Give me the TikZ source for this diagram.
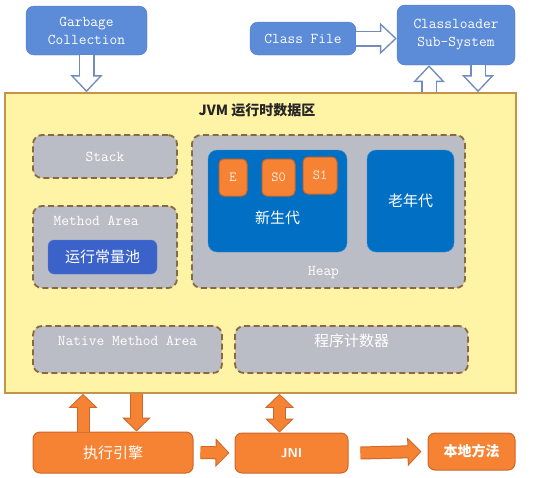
\documentclass[tikz,border=0pt]{standalone}
\usepackage{fontspec}
\newfontfamily\cjk{Noto Sans CJK SC}
\usepackage{tikz}
\usetikzlibrary{positioning,arrows.meta,calc}
\definecolor{cbox}{RGB}{92,139,216}
\definecolor{cboxline}{RGB}{80,122,200}
\definecolor{hline}{RGB}{112,140,188}
\definecolor{jvmbg}{RGB}{255,243,166}
\definecolor{jvmline}{RGB}{196,146,72}
\definecolor{areabg}{RGB}{186,189,197}
\definecolor{arealine}{RGB}{140,104,60}
\definecolor{genblue}{RGB}{0,111,196}
\definecolor{poolblue}{RGB}{58,98,200}
\definecolor{orng}{RGB}{246,131,52}
\definecolor{orngline}{RGB}{205,102,40}
\tikzset{
  sz/.style 2 args={minimum width=#1,minimum height=#2,inner sep=0pt},
  ttf/.style={font=\fontsize{15}{18}\selectfont\ttfamily},
  cnf/.style={font=\fontsize{15}{18}\selectfont\cjk},
  bluebox/.style={rounded corners=8pt,fill=cbox,draw=cboxline,text=white,align=center,ttf},
  jvmbox/.style={fill=jvmbg,draw=jvmline,line width=1.6pt},
  area/.style={rounded corners=9pt,fill=areabg,draw=arealine,line width=1.8pt,dash pattern=on 6pt off 3.5pt,text=white},
  gen/.style={rounded corners=9pt,fill=genblue,draw=genblue!75!white,text=white,cnf},
  obox/.style={rounded corners=7pt,fill=orng,draw=orngline,line width=1pt,text=white},
  sbox/.style={rounded corners=5pt,fill=orng,draw=orngline,line width=1pt,text=white!85!orng,font=\fontsize{14}{16}\selectfont\ttfamily},
  hollowarr/.style={line width=16pt,draw=hline,-{Triangle[length=17pt,width=31pt]},
    postaction={draw=white,line width=13pt,shorten >=2.2pt,-{Triangle[length=13.3pt,width=24.3pt]}}},
  oarrow/.style={line width=13pt,draw=orngline,-{Triangle[length=14pt,width=28pt]},
    postaction={draw=orng,line width=11pt,shorten >=1.4pt,-{Triangle[length=11.6pt,width=23.2pt]}}},
  oarrowdbl/.style={line width=13pt,draw=orngline,{Triangle[length=14pt,width=28pt]}-{Triangle[length=14pt,width=28pt]},
    postaction={draw=orng,line width=11pt,shorten >=1.4pt,shorten <=1.4pt,{Triangle[length=11.6pt,width=23.2pt]}-{Triangle[length=11.6pt,width=23.2pt]}}}
}
\begin{document}
\begin{tikzpicture}[x=1pt,y=-1pt]
\useasboundingbox[fill=white] (0,0) rectangle (546,477);
% outside boxes
\node[bluebox,sz={121pt}{49pt}] (gc) at (86.5,30.5) {Garbage\\Collection};
\node[bluebox,sz={106pt}{33pt}] (cf) at (303,38.5) {Class File};
\node[bluebox,sz={118pt}{60pt}] (cl) at (456,35) {Classloader\\Sub-System};
% runtime data area
\node[jvmbox,sz={511pt}{300pt}] (jvm) at (260.5,243) {};
\node[font=\fontsize{14}{16}\selectfont\cjk\bfseries,text=black!85] (title) at (257,110) {JVM 运行时数据区};
\node[area,ttf,sz={144pt}{43pt}] (stack) at (105,156.5) {Stack};
\node[area,sz={144pt}{82pt}] (ma) at (105,247) {};
\node[ttf,text=white] (malab) at ($(ma.north west)+(64,16)$) {Method Area};
\node[rounded corners=6pt,fill=poolblue,draw=poolblue!80!white,text=white,cnf,sz={109pt}{34pt}] (pool) at (102.5,257) {运行常量池};
\node[area,sz={273pt}{153pt}] (heap) at (328.5,211.5) {};
\node[ttf,text=white] (heaplab) at ($(heap.south)+(-5,-16)$) {Heap};
\node[gen,sz={139pt}{102pt}] (young) at (277.5,201) {};
\node[cnf,text=white] (younglab) at ($(young.center)+(0,17)$) {新生代};
\node[gen,sz={87pt}{102pt}] (old) at (410.5,201) {老年代};
\node[sbox,sz={28pt}{37pt}] (eden) at (233,177.5) {E};
\node[sbox,sz={33pt}{37pt}] (szero) at (278.5,177.5) {S0};
\node[sbox,sz={34pt}{37pt}] (sone) at (320,175.5) {S1};
\node[area,sz={189pt}{47pt}] (nma) at (127.5,349.5) {};
\node[ttf,text=white] (nmalab) at ($(nma.north)+(0,16)$) {Native Method Area};
\node[area,sz={233pt}{47pt}] (pc) at (351.5,349.5) {};
\node[cnf,text=white] (pclab) at ($(pc.north)+(0,16)$) {程序计数器};
% bottom row
\node[obox,cnf,sz={160pt}{41pt}] (eng) at (113,452.5) {执行引擎};
\node[obox,sz={113pt}{40pt},font=\fontsize{13}{15}\selectfont\sffamily\bfseries] (jni) at (291.5,453) {JNI};
\node[obox,sz={87pt}{37pt},font=\fontsize{14}{16}\selectfont\cjk\bfseries] (lib) at (471.5,451.5) {本地方法};
% connectors
\coordinate (clup) at ([xshift=-27pt]cl.south);
\coordinate (cldown) at ([xshift=22pt]cl.south);
\coordinate (engup) at ([xshift=-30pt]eng.north);
\coordinate (engdown) at ([xshift=23.5pt]eng.north);
\coordinate (jniup) at ([xshift=-12pt]jni.north);
\draw[hollowarr] (gc.south) -- (gc.south |- jvm.north);
\draw[hollowarr] (cf.east) -- (cf.east -| cl.west);
\draw[hollowarr] (clup |- jvm.north) -- (clup);
\draw[hollowarr] (cldown) -- (cldown |- jvm.north);
\draw[oarrow] (engup) -- (engup |- jvm.south);
\draw[oarrow] (engdown |- jvm.south) -- (engdown);
\draw[oarrowdbl] (jniup) -- (jniup |- jvm.south);
\draw[oarrow] ([xshift=7pt]eng.east) -- ([xshift=-5pt]jni.west);
\draw[oarrow] ([xshift=12pt]jni.east) -- ([xshift=-6pt]lib.west);
\end{tikzpicture}
\end{document}
